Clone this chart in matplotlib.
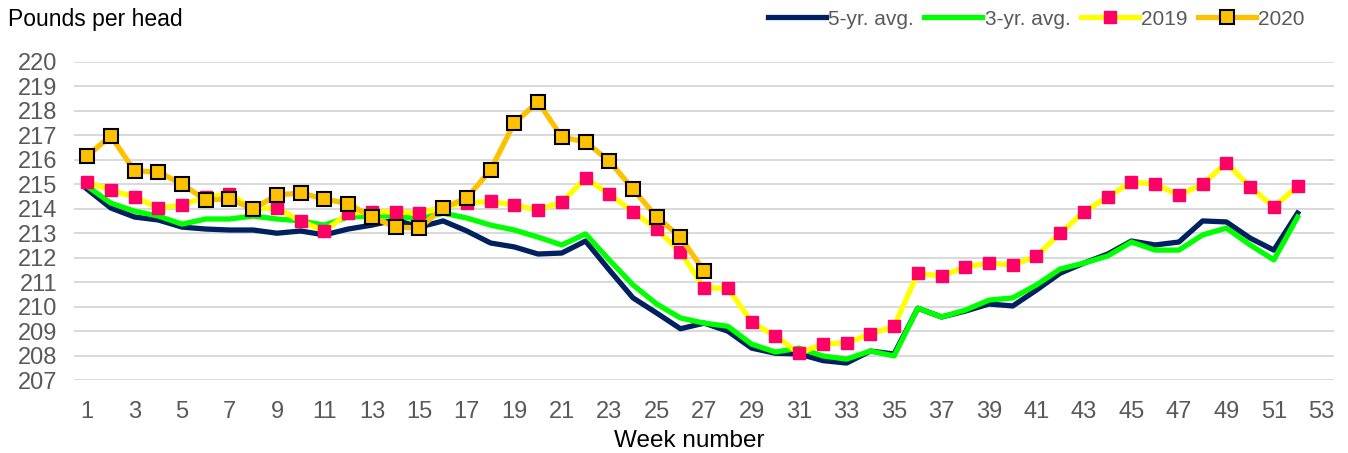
import matplotlib
matplotlib.use('Agg')
from matplotlib import pyplot as plt
import numpy as np

plt.rcParams['font.family'] = ['Liberation Sans', 'DejaVu Sans']

weeks = np.arange(1, 53)

avg5 = [214.8, 214.03, 213.66, 213.54, 213.25, 213.17, 213.13, 213.13, 213.0, 213.09,
        212.93, 213.17, 213.33, 213.54, 213.25, 213.5, 213.09, 212.6, 212.44, 212.15,
        212.19, 212.68, 211.5, 210.36, 209.74, 209.1, 209.33, 209.0, 208.31, 208.1,
        208.07, 207.8, 207.7, 208.19, 208.07, 209.94, 209.58, 209.82, 210.11, 210.03,
        210.68, 211.37, 211.78, 212.15, 212.68, 212.52, 212.64, 213.5, 213.46, 212.8,
        212.31, 213.82]

avg3 = [214.92, 214.23, 213.9, 213.7, 213.37, 213.58, 213.58, 213.7, 213.58, 213.5,
        213.33, 213.66, 213.7, 213.7, 213.58, 213.82, 213.62, 213.33, 213.13, 212.84,
        212.52, 212.97, 211.91, 210.89, 210.11, 209.54, 209.33, 209.2, 208.47, 208.15,
        208.31, 207.99, 207.86, 208.19, 207.99, 209.94, 209.58, 209.86, 210.27, 210.36,
        210.89, 211.54, 211.78, 212.07, 212.64, 212.31, 212.31, 212.93, 213.21, 212.52,
        211.91, 213.66]

y2019 = [215.09, 214.76, 214.48, 214.03, 214.15, 214.48, 214.6, 214.0, 214.03, 213.5,
         213.09, 213.82, 213.87, 213.87, 213.82, 214.07, 214.23, 214.3, 214.15, 213.95,
         214.27, 215.25, 214.6, 213.87, 213.17, 212.23, 210.76, 210.76, 209.37, 208.8,
         208.1, 208.48, 208.52, 208.89, 209.2, 211.37, 211.25, 211.62, 211.78, 211.7,
         212.07, 213.0, 213.87, 214.48, 215.09, 215.0, 214.56, 215.0, 215.87, 214.89,
         214.07, 214.93]

weeks2020 = np.arange(1, 28)
y2020 = [216.15, 216.97, 215.54, 215.5, 215.0, 214.36, 214.4, 213.99, 214.56, 214.64,
         214.4, 214.2, 213.66, 213.25, 213.21, 214.03, 214.44, 215.58, 217.5, 218.36,
         216.93, 216.72, 215.95, 214.8, 213.66, 212.84, 211.45]

fig = plt.figure(figsize=(13.48, 4.53), dpi=100)
ax = fig.add_axes([0.0549, 0.1607, 0.935, 0.7031])

ax.plot(weeks, avg5, color='#002060', lw=3.8, label='5-yr. avg.', zorder=2)
ax.plot(weeks, avg3, color='#00FF00', lw=3.8, label='3-yr. avg.', zorder=3)
ax.plot(weeks, y2019, color='#FFFF00', lw=3.8, marker='s', ms=9,
        mfc='#FF0066', mec='#FF0066', label='2019', zorder=4)
ax.plot(weeks2020, y2020, color='#FFC000', lw=3.8, marker='s', ms=10.5,
        mfc='#FFC000', mec='black', mew=1.5, label='2020', zorder=5)

ax.set_xlim(0.45, 53.55)
ax.set_ylim(207, 220)
ax.set_xticks(np.arange(1, 54, 2))
ax.set_yticks(np.arange(207, 221, 1))
ax.tick_params(axis='y', length=0, labelsize=17, labelcolor='#595959', pad=12)
ax.tick_params(axis='x', length=0, labelsize=17, labelcolor='#595959', pad=15)
ax.grid(axis='y', color='#D9D9D9', lw=1.4)
ax.set_axisbelow(True)
for s in ax.spines.values():
    s.set_visible(False)

ax.set_xlabel('Week number', fontsize=17.5, color='black')
ax.xaxis.set_label_coords(0.4885, -0.155)
fig.text(0.006, 0.958, 'Pounds per head', fontsize=16.5, color='black', va='center')

leg = fig.legend(loc='center right', bbox_to_anchor=(0.982, 0.958), ncol=4, frameon=False,
                 fontsize=15, handlelength=2.8, handletextpad=0.1, columnspacing=0.5)
for t in leg.get_texts():
    t.set_color('#595959')

fig.savefig('out.png', dpi=100)
